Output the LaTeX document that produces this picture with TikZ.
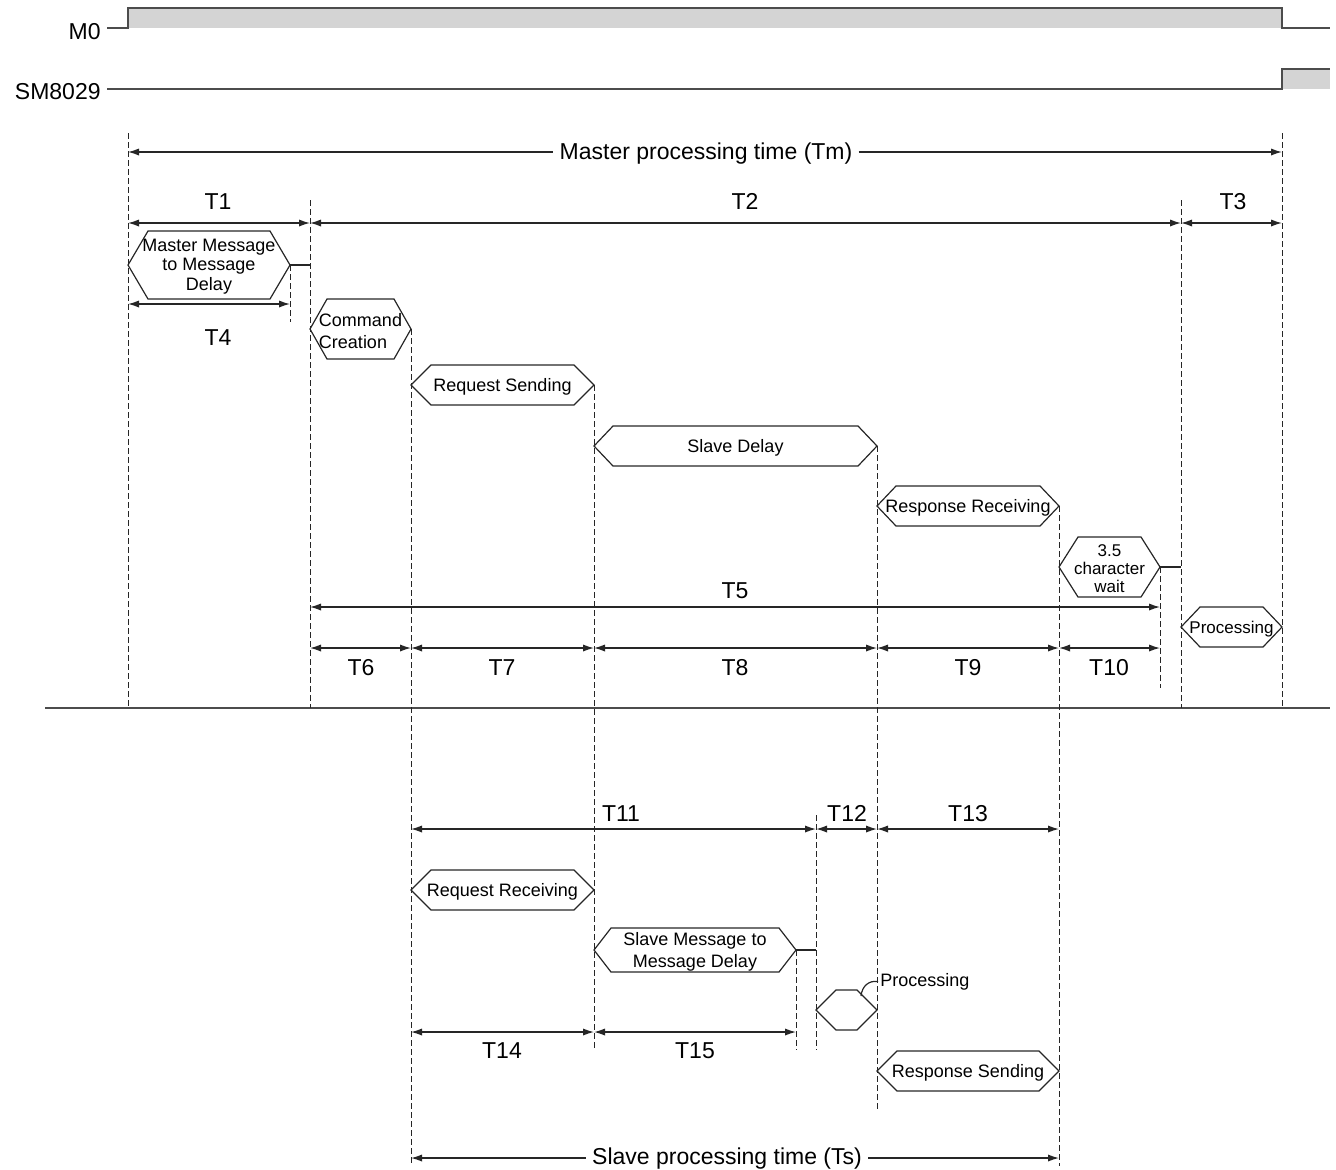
\documentclass[tikz,border=0pt]{standalone}
\usepackage{fontspec}
\setmainfont{Liberation Sans}
\usetikzlibrary{arrows.meta}
\newcommand{\hexa}[8][]{% style, name, xl, xr, yc, halfh, depth, text
  \draw[hexline] (#3,#5) -- ({#3+#7},{#5-#6}) -- ({#4-#7},{#5-#6}) -- (#4,#5)
     -- ({#4-#7},{#5+#6}) -- ({#3+#7},{#5+#6}) -- cycle;
  \node[hextext,#1] (#2) at ({(#3+#4)/2},#5) {#8};
}
\begin{document}
\begin{tikzpicture}[x=0.5pt,y=-0.5pt,
  ink/.style={draw=black!85, line width=0.65pt},
  dimline/.style={ink, {Latex[length=5.5pt,width=3.6pt]}-{Latex[length=5.5pt,width=3.6pt]}},
  dimleft/.style={ink, {Latex[length=5.5pt,width=3.6pt]}-},
  dimright/.style={ink, -{Latex[length=5.5pt,width=3.6pt]}},
  guide/.style={draw=black!85, line width=0.5pt, dash pattern=on 3pt off 1.5pt},
  hexline/.style={draw=black!85, line width=0.6pt, line join=miter},
  hextext/.style={font=\fontsize{9}{9.8}\selectfont, inner sep=0pt, align=center, yshift=-0.8pt},
  tlabel/.style={font=\fontsize{11.5}{13}\selectfont, inner sep=0pt, yshift=-0.6pt},
  wave/.style={draw=black!70, line width=1pt},
]
\useasboundingbox (0,0) rectangle (1336,1169);

% ---------- waveforms ----------
\fill[black!17] (128,8) rectangle (1282,28);
\draw[wave] (107,28) -- (128,28) -- (128,8) -- (1282,8) -- (1282,28) -- (1330,28);
\node[tlabel, anchor=east] (m0) at (101,30) {M0};

\fill[black!17] (1282,69) rectangle (1330,89);
\draw[wave] (107,89) -- (1282,89) -- (1282,69) -- (1330,69);
\node[tlabel, anchor=east] (sm) at (101,90) {SM8029};

% separator
\draw[wave, line width=0.8pt] (45,708) -- (1330,708);

% ---------- dashed guides ----------
\draw[guide] (128,133) -- (128,708);
\draw[guide] (1282,133) -- (1282,708);
\draw[guide] (310,200) -- (310,708);
\draw[guide] (1181,200) -- (1181,708);
\draw[guide] (290,265) -- (290,322);
\draw[guide] (411,329) -- (411,1166);
\draw[guide] (594,385) -- (594,1050);
\draw[guide] (877,446) -- (877,1110);
\draw[guide] (1059,506) -- (1059,1166);
\draw[guide] (1160,567) -- (1160,688);
\draw[guide] (816,815) -- (816,1050);
\draw[guide] (796,950) -- (796,1050);

% ---------- master timing ----------
\node[tlabel, inner xsep=3pt] (tm) at (706,152) {Master processing time (Tm)};
\draw[dimleft] (128,152) -- (tm.west |- 128,152);
\draw[dimright] (tm.east |- 1282,152) -- (1282,152);

\draw[dimline] (128,223) -- (310,223);
\draw[dimline] (310,223) -- (1181,223);
\draw[dimline] (1181,223) -- (1282,223);
\node[tlabel] (t1) at (218,200) {T1};
\node[tlabel] (t2) at (745,200) {T2};
\node[tlabel] (t3) at (1233,200) {T3};

\hexa{mmd}{128}{290}{265}{34}{20}{Master Message\\to Message\\Delay}
\draw[hexline] (290,265) -- (310,265);
\draw[dimline] (128,304) -- (290,304);
\node[tlabel] (t4) at (218,336) {T4};

\hexa[align=left, font=\fontsize{9}{11}\selectfont]{cmd}{310}{411}{329}{30}{17}{Command\\Creation}
\hexa{rqs}{411}{594}{385}{20}{20}{Request Sending}
\hexa{sld}{594}{877}{446}{20}{19}{Slave Delay}
\hexa{rsr}{877}{1059}{506}{20}{19}{Response Receiving}
\hexa[font=\fontsize{8.5}{9}\selectfont]{chw}{1059}{1160}{567}{30}{19}{3.5\\character\\wait}
\draw[hexline] (1160,567) -- (1181,567);
\hexa[font=\fontsize{8.5}{9}\selectfont]{prm}{1181}{1282}{627}{20}{19}{Processing}

\draw[dimline] (310,607) -- (1160,607);
\node[tlabel] (t5) at (735,589) {T5};

\draw[dimline] (310,648) -- (411,648);
\draw[dimline] (411,648) -- (594,648);
\draw[dimline] (594,648) -- (877,648);
\draw[dimline] (877,648) -- (1059,648);
\draw[dimline] (1059,648) -- (1160,648);
\node[tlabel] (t6) at (361,666) {T6};
\node[tlabel] (t7) at (502,666) {T7};
\node[tlabel] (t8) at (735,666) {T8};
\node[tlabel] (t9) at (968,666) {T9};
\node[tlabel] (t10) at (1109,666) {T10};

% ---------- slave timing ----------
\draw[dimline] (411,829) -- (816,829);
\draw[dimline] (816,829) -- (877,829);
\draw[dimline] (877,829) -- (1059,829);
\node[tlabel] (t11) at (621,812) {T11};
\node[tlabel] (t12) at (847,812) {T12};
\node[tlabel] (t13) at (968,812) {T13};

\hexa{rqr}{411}{594}{890}{20}{20}{Request Receiving}
\hexa[font=\fontsize{9}{11}\selectfont]{smd}{594}{796}{950}{22}{17}{Slave Message to\\Message Delay}
\draw[hexline] (796,950) -- (816,950);
\hexa{prs}{816}{877}{1010}{20}{20}{}
\node[hextext, anchor=west, inner sep=1pt, yshift=0pt] (prsl) at (878,980) {Processing};
\coordinate (prsc) at (861,996);
\draw[hexline] (prsc) .. controls (862,986) and (869,980) .. (prsl.west);

\draw[dimline] (411,1032) -- (594,1032);
\draw[dimline] (594,1032) -- (796,1032);
\node[tlabel] (t14) at (502,1049) {T14};
\node[tlabel] (t15) at (695,1049) {T15};

\hexa{rss}{877}{1059}{1071}{20}{20}{Response Sending}

\node[tlabel, inner xsep=3pt] (ts) at (727,1157) {Slave processing time (Ts)};
\draw[dimleft] (411,1158) -- (ts.west |- 411,1158);
\draw[dimright] (ts.east |- 1059,1158) -- (1059,1158);
\end{tikzpicture}
\end{document}
